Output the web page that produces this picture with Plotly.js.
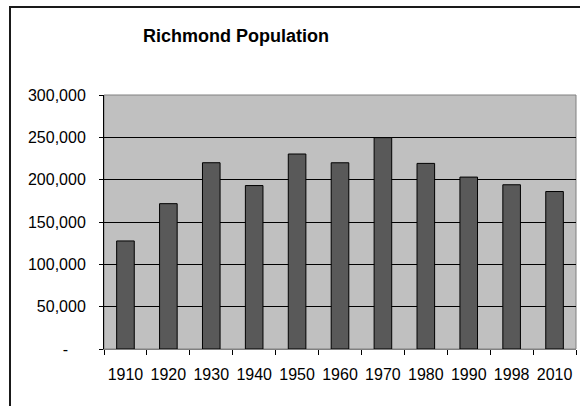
<!DOCTYPE html>
<html>
<head>
<meta charset="utf-8">
<script src="https://cdn.plot.ly/plotly-3.0.1.min.js"></script>
<style>
  html, body { margin: 0; padding: 0; background: #fff; }
  #wrap { position: relative; width: 580px; height: 406px; overflow: hidden; }
  #frame { position: absolute; left: 9px; top: 6px; width: 600px; height: 420px;
           border-left: 2px solid #1a1a1a; border-top: 2px solid #1a1a1a; }
  #chart { position: absolute; left: 0; top: 0; width: 580px; height: 406px; }
</style>
</head>
<body>
<div id="wrap">
  <div id="frame"></div>
  <div id="chart"></div>
</div>
<script>
const years = ["1910", "1920", "1930", "1940", "1950", "1960", "1970", "1980", "1990", "1998", "2010"];
const population = [127628, 171667, 220000, 193042, 230310, 219958, 249621, 219214, 203056, 194000, 186000];
const yTickVals = [0, 50000, 100000, 150000, 200000, 250000, 300000];
const yTickText = ["-\u00a0\u00a0\u00a0\u00a0", "50,000", "100,000", "150,000", "200,000", "250,000", "300,000"];
const chartTitle = "Richmond Population";

const trace = {
  type: "bar",
  x: years,
  y: population,
  marker: { color: "#595959", line: { color: "#000000", width: 1 } },
  hoverinfo: "x+y"
};

const layout = {
  width: 580,
  height: 406,
  margin: { l: 104, r: 4, t: 95, b: 57 },
  paper_bgcolor: "rgba(0,0,0,0)",
  plot_bgcolor: "#c0c0c0",
  bargap: 0.59,
  showlegend: false,
  font: { family: "Liberation Sans, Arial, sans-serif", size: 16, color: "#000" },
  title: {
    text: "<b>" + chartTitle + "</b>",
    font: { family: "Liberation Sans, Arial, sans-serif", size: 18, color: "#000" },
    xref: "container", yref: "container",
    x: 236 / 580, xanchor: "center",
    y: 1 - 36 / 406, yanchor: "middle"
  },
  xaxis: {
    type: "category",
    tickson: "boundaries",
    ticks: "outside",
    ticklen: 5,
    tickcolor: "#000",
    tickwidth: 1,
    tickangle: 0,
    showgrid: false,
    showline: true,
    linecolor: "#808080",
    linewidth: 1,
    ticklabelstandoff: 11,
    tickfont: { size: 16 }
  },
  yaxis: {
    range: [0, 300000],
    tickvals: yTickVals,
    ticktext: yTickText,
    ticks: "outside",
    ticklen: 4,
    tickcolor: "#000",
    showgrid: true,
    gridcolor: "#000",
    gridwidth: 1,
    zeroline: false,
    showline: true,
    linecolor: "#000",
    linewidth: 1,
    ticklabelstandoff: 10,
    tickfont: { size: 16 }
  },
  shapes: [
    { type: "rect", xref: "paper", yref: "paper", x0: 0, x1: 1, y0: 0, y1: 1,
      line: { color: "#808080", width: 1 }, layer: "below" }
  ]
};

Plotly.newPlot("chart", [trace], layout, { displayModeBar: false, staticPlot: true });
</script>
</body>
</html>
